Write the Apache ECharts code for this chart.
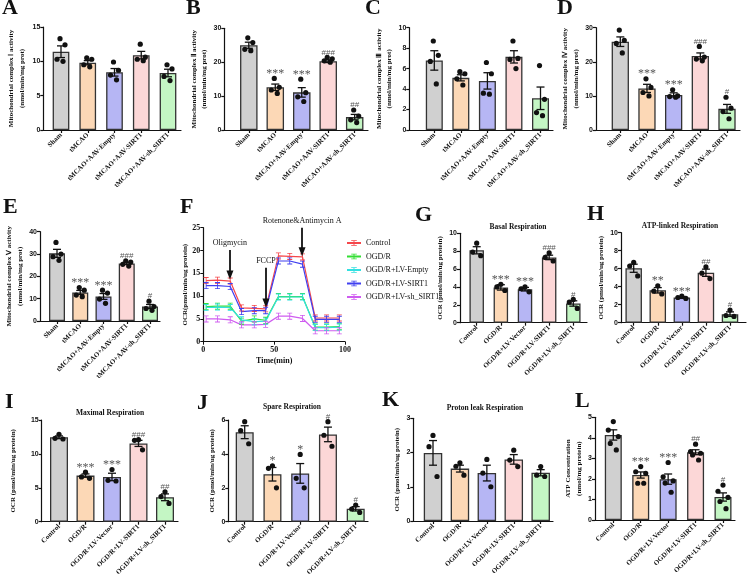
<!DOCTYPE html>
<html><head><meta charset="utf-8">
<script src="https://cdn.jsdelivr.net/npm/echarts@6/dist/echarts.min.js"></script>
<style>html,body{margin:0;padding:0;background:#fff}#c{width:747px;height:588px}</style>
</head><body><div id="c"></div>
<script>
// ---------- DATA ----------
const catsMCAO = ['Sham','tMCAO','tMCAO+AAV-Empty','tMCAO+AAV-SIRT1','tMCAO+AAV-sh_SIRT1'];
const catsOGD  = ['Control','OGD/R','OGD/R+LV-Vector','OGD/R+LV-SIRT1','OGD/R+LV-sh_SIRT1'];

const meanA=[11.4,9.8,8.4,10.9,8.3];   const semA=[0.85,0.3,0.55,0.55,0.55];
const ptsA=[[13.3,12.4,10.3,10.0],[10.5,10.3,9.5,9.2],[9.9,8.7,8.0,7.3],[12.5,10.6,10.3,10.1],[9.5,8.9,7.8,7.2]];
const meanB=[25.0,12.6,11.1,20.3,3.8]; const semB=[0.9,0.95,1.4,0.4,0.8];
const ptsB=[[27.2,25.8,23.8,23.4],[15.2,12.6,11.8,10.8],[15.0,11.0,9.8,8.4],[21.4,21.0,20.4,20.0],[5.9,4.1,3.0,2.2]];
const sigB=['','***','***','###','##'];
const meanC=[6.8,5.1,4.8,7.15,3.1];    const semC=[0.95,0.3,0.8,0.6,1.1];
const ptsC=[[8.7,7.3,6.7,4.5],[5.7,5.5,5.0,4.4],[6.6,5.5,3.6,3.5],[8.7,7.0,6.9,6.0],[6.3,3.0,1.7,1.4]];
const meanD=[25.9,12.2,10.3,21.7,6.2]; const semD=[1.4,1.2,0.6,0.9,1.3];
const ptsD=[[29.3,26.3,25.4,22.6],[15.0,12.5,11.0,10.0],[11.8,10.0,9.8,9.6],[24.5,21.4,20.8,20.3],[9.6,6.4,5.4,3.3]];
const sigD=['','***','***','###','#'];
const meanE=[30.3,12.8,11.0,25.8,6.5]; const semE=[1.8,0.9,1.3,0.5,0.9];
const ptsE=[[35.2,30.0,28.8,27.2],[15.0,13.8,11.6,10.9],[13.8,12.5,9.8,7.9],[26.9,26.4,25.4,24.6],[8.9,6.5,5.6,4.8]];
const sigE=['','***','***','###','#'];
const meanG=[8.1,3.95,3.75,7.3,2.15];  const semG=[0.4,0.3,0.2,0.25,0.3];
const ptsG=[[8.9,7.9,7.5],[4.3,4.0,3.6],[4.0,3.8,3.45],[7.8,7.3,6.9],[2.6,2.3,1.6]];
const sigG=['','***','***','###','#'];
const meanH=[6.05,3.6,2.8,5.55,0.95]; const semH=[0.45,0.3,0.1,0.4,0.25];
const ptsH=[[6.7,6.3,5.2],[4.1,3.5,3.2],[2.95,2.8,2.7],[6.2,5.5,4.9],[1.4,0.8,0.7]];
const sigH=['','**','***','##','#'];
const meanI=[12.45,6.8,6.6,11.55,3.6]; const semI=[0.2,0.25,0.55,0.45,0.5];
const ptsI=[[12.9,12.3,12.2],[7.3,6.6,6.4],[7.7,6.1,6.0],[12.1,12.0,10.6],[4.4,3.7,2.7]];
const sigI=['','***','***','###','##'];
const meanJ=[5.28,2.8,2.85,5.15,0.76]; const semJ=[0.38,0.4,0.58,0.43,0.13];
const ptsJ=[[5.9,5.37,4.6],[3.3,3.15,2.0],[3.97,2.56,2.0],[5.9,5.1,4.45],[0.98,0.75,0.55]];
const sigJ=['','*','*','#','#'];
const meanK=[1.99,1.53,1.4,1.8,1.41];  const semK=[0.36,0.1,0.23,0.14,0.09];
const ptsK=[[2.5,2.17,1.3],[1.7,1.6,1.34],[1.8,1.4,1.0],[2.07,1.78,1.59],[1.59,1.34,1.3]];
const meanL=[4.14,2.19,1.99,3.3,1.12]; const semL=[0.25,0.15,0.25,0.12,0.2];
const ptsL=[[4.79,4.38,4.06,3.73,3.41],[2.6,2.35,2.27,1.79,1.79],[2.8,2.1,1.9,1.8,1.35],[3.69,3.33,3.25,3.17,2.92],[1.7,1.4,1.1,0.9,0.55]];
const sigL=['','***','***','##','#'];

// Panel F (seahorse OCR trace)
const timeF=[2,10,19,27,36,44,53,61,70,79,87,96];
const ocrControl=[13.4,13.5,13.3,7.4,7.3,7.2,18.8,18.7,18.6,5.2,5.2,5.2];
const ocrOGDR   =[7.7,7.8,7.8,4.5,5.0,4.7,9.9,9.9,9.9,3.2,3.2,3.3];
const ocrEmpty  =[7.5,7.6,7.5,4.8,4.4,4.5,9.8,9.8,9.8,3.1,3.1,3.2];
const ocrSIRT1  =[12.3,12.3,12.1,6.6,6.8,6.8,17.7,17.7,17.0,4.9,4.9,4.9];
const ocrShSIRT1=[5.0,5.0,4.8,3.7,3.7,3.8,5.6,5.6,5.1,2.4,2.4,2.4];
const namesF=['Control','OGD/R','OGD/R+LV-Empty','OGD/R+LV-SIRT1','OGD/R+LV-sh_SIRT1'];
const injections=[{name:'Oligmycin',t:18.8,from:20.1,to:14.6},{name:'FCCP',t:44.2,from:16.2,to:8.5},{name:'Rotenone&Antimycin A',t:69.7,from:25,to:19.7}];

// ---------- PANEL DEFINITIONS ----------
const PANELS=[
 {key:'A',cats:catsMCAO,mean:meanA,sem:semA,pts:ptsA,sig:null,max:15,int:5,yname:'Mitochondrial complex Ⅰ activity\n(nmol/min/mg prot)'},
 {key:'B',cats:catsMCAO,mean:meanB,sem:semB,pts:ptsB,sig:sigB,max:30,int:10,yname:'Mitochondrial complex Ⅱ activity\n(nmol/min/mg prot)'},
 {key:'C',cats:catsMCAO,mean:meanC,sem:semC,pts:ptsC,sig:null,max:10,int:2,yname:'Mitochondrial complex Ⅲ activity\n(nmol/min/mg prot)'},
 {key:'D',cats:catsMCAO,mean:meanD,sem:semD,pts:ptsD,sig:sigD,max:30,int:10,yname:'Mitochondrial complex Ⅳ activity\n(nmol/min/mg prot)'},
 {key:'E',cats:catsMCAO,mean:meanE,sem:semE,pts:ptsE,sig:sigE,max:40,int:10,yname:'Mitochondrial complex Ⅴ activity\n(nmol/min/mg prot)'},
 {key:'G',cats:catsOGD,mean:meanG,sem:semG,pts:ptsG,sig:sigG,max:10,int:2,yname:'OCR (pmol/min/ug protein)'},
 {key:'H',cats:catsOGD,mean:meanH,sem:semH,pts:ptsH,sig:sigH,max:10,int:2,yname:'OCR (pmol/min/ug protein)'},
 {key:'I',cats:catsOGD,mean:meanI,sem:semI,pts:ptsI,sig:sigI,max:15,int:5,yname:'OCR (pmol/min/ug protein)'},
 {key:'J',cats:catsOGD,mean:meanJ,sem:semJ,pts:ptsJ,sig:sigJ,max:6,int:2,yname:'OCR (pmol/min/ug protein)'},
 {key:'K',cats:catsOGD,mean:meanK,sem:semK,pts:ptsK,sig:null,max:3,int:1,yname:'OCR (pmol/min/ug protein)'},
 {key:'L',cats:catsOGD,mean:meanL,sem:semL,pts:ptsL,sig:sigL,max:5,int:1,yname:'ATP Concentration\n(nmol/mg protein)'}
];
const TITLES=[['Basal Respiration',518,227],['ATP-linked Respiration',680,226],['Maximal Respiration',110,413],['Spare Respiration',292,407],['Proton leak Respiration',485,408]];
const LETTERS=[['A',2,8],['B',186,8],['C',365,8],['D',557,8],['E',3,207],['F',180,207],['G',415,215],['H',587,214],['I',5,402],['J',197,403],['K',382,400],['L',575,401]];

// ---------- LAYOUT / STYLE ----------
const LAYOUT={
 A:{ax:43.3,top:27,zero:130,c0:61,c4:168,end:181,bw:16.7,ng:16},
 B:{ax:224.3,top:28.3,zero:130,c0:248.8,c4:354.7,end:368,bw:17.5,ng:14},
 C:{ax:409.3,top:27.7,zero:130,c0:434.3,c4:540.5,end:553,bw:17,ng:11},
 D:{ax:596,top:27.7,zero:130,c0:620.3,c4:727,end:740,bw:17.3,ng:11},
 E:{ax:40,top:231.7,zero:321,c0:57,c4:150,end:160,bw:16,ng:12},
 G:{ax:460,top:233.3,zero:322.7,c0:476.7,c4:573.3,end:587,bw:14.5,ng:14},
 H:{ax:621,top:232.7,zero:322.7,c0:633.7,c4:730,end:746,bw:16.5,ng:12},
 I:{ax:41.7,top:420,zero:521.7,c0:59,c4:165,end:178,bw:18,ng:23},
 J:{ax:228.3,top:420,zero:521.7,c0:244.7,c4:355.7,end:368,bw:18,ng:7},
 K:{ax:413.3,top:418.3,zero:521,c0:433,c4:540.7,end:553,bw:18.5,ng:8},
 L:{ax:595,top:417.3,zero:520,c0:613.3,c4:723,end:735,bw:17,ng:10}
};
const BAR_COLORS=['#d0d0d0','#fcd8b6','#b6b6f4','#fcd7d7','#c4f6c4'];
const F_COLORS=['#f5474b','#33de33','#33e0e0','#4040f0','#cf5cf0'];
const JIT={3:[0,-4,4],4:[-1,4,-4,2],5:[0,-5,5,-3,3]};
const SERIF='"Liberation Serif","Times New Roman",serif';
const SANS='"Liberation Sans",Arial,sans-serif';
const INK='#111';

const chart=echarts.init(document.getElementById('c'),null,{renderer:'canvas',width:747,height:588});
const grids=[],xAxes=[],yAxes=[],series=[];

PANELS.forEach((p,k)=>{
  const L=LAYOUT[p.key];
  const s=(L.c4-L.c0)/4;
  grids.push({left:L.ax,top:L.top,width:L.end-L.ax,height:L.zero-L.top});
  xAxes.push({gridIndex:k,type:'value',min:-(L.c0-L.ax)/s,max:4+(L.end-L.c4)/s,splitLine:{show:false},
    axisLine:{show:true,onZero:false,lineStyle:{color:INK,width:1.2}},
    axisTick:{show:true,customValues:[0,1,2,3,4],length:3,lineStyle:{color:INK,width:1.2}},
    axisLabel:{customValues:[0,1,2,3,4],formatter:v=>p.cats[Math.round(v)],rotate:45,margin:4,
      fontFamily:SERIF,fontWeight:'bold',fontSize:7,color:INK}});
  yAxes.push({gridIndex:k,type:'value',min:0,max:p.max,interval:p.int,splitLine:{show:false},
    axisLine:{show:true,onZero:false,lineStyle:{color:INK,width:1.2}},
    axisTick:{show:true,length:3,lineStyle:{color:INK,width:1.2}},
    axisLabel:{fontFamily:SANS,fontWeight:'bold',fontSize:7,color:INK,margin:3},
    name:p.yname,nameLocation:'middle',nameGap:L.ng,
    nameTextStyle:{fontFamily:SERIF,fontWeight:'bold',fontSize:7,color:INK,lineHeight:10.5}});
  series.push({type:'bar',xAxisIndex:k,yAxisIndex:k,barWidth:L.bw,z:2,silent:true,
    data:p.mean.map((v,i)=>({value:[i,v],itemStyle:{color:BAR_COLORS[i]}})),
    itemStyle:{borderColor:'#333',borderWidth:1.3}});
  // error bars
  series.push({type:'custom',xAxisIndex:k,yAxisIndex:k,z:4,silent:true,
    data:p.mean.map((v,i)=>[i,v,p.sem[i]]),
    renderItem:(params,api)=>{
      const i=api.value(0),m=api.value(1),e=api.value(2);
      const hi=api.coord([i,m+e]),lo=api.coord([i,m-e]);const c=4;
      const st={stroke:INK,lineWidth:1.3};
      return {type:'group',children:[
        {type:'line',shape:{x1:hi[0],y1:hi[1],x2:lo[0],y2:lo[1]},style:st},
        {type:'line',shape:{x1:hi[0]-c,y1:hi[1],x2:hi[0]+c,y2:hi[1]},style:st},
        {type:'line',shape:{x1:lo[0]-c,y1:lo[1],x2:lo[0]+c,y2:lo[1]},style:st}]};
    }});
  // individual points
  const pd=[];p.pts.forEach((arr,i)=>arr.forEach((v,j)=>pd.push([i,v,j,arr.length])));
  series.push({type:'custom',xAxisIndex:k,yAxisIndex:k,z:5,silent:true,data:pd,
    renderItem:(params,api)=>{
      const c=api.coord([api.value(0),api.value(1)]);
      const off=(JIT[api.value(3)]||[0])[api.value(2)]||0;
      return {type:'circle',shape:{cx:c[0]+off,cy:c[1],r:2.6},style:{fill:INK}};
    }});
  // significance marks
  if(p.sig){
    const sd=p.mean.map((v,i)=>[i,v+p.sem[i],Math.max.apply(null,p.pts[i]),i]);
    series.push({type:'custom',xAxisIndex:k,yAxisIndex:k,z:6,silent:true,data:sd,
      renderItem:(params,api)=>{
        const i=api.value(0);const t=p.sig[api.value(3)];
        if(!t) return null;
        const a=api.coord([i,api.value(1)]),b=api.coord([i,api.value(2)]);
        const top=Math.min(a[1],b[1]-2.6);
        const star=t[0]==='*';
        return {type:'text',style:{text:t,x:a[0],y:top+(star?4:1.5),align:'center',textAlign:'center',
          verticalAlign:'bottom',textVerticalAlign:'bottom',
          font:star?('12px '+SERIF):('8px '+SANS),fill:'#555'}};
      }});
  }
});

// ---------- Panel F ----------
const fk=PANELS.length;
grids.push({left:203.3,top:227.7,width:141.7,height:114});
xAxes.push({gridIndex:fk,type:'value',min:0,max:100,interval:50,splitLine:{show:false},
  axisLine:{show:true,onZero:false,lineStyle:{color:INK,width:1.2}},axisTick:{show:true,length:3,lineStyle:{color:INK}},
  axisLabel:{fontFamily:SERIF,fontWeight:'bold',fontSize:8,color:INK,margin:4},
  name:'Time(min)',nameLocation:'middle',nameGap:15,nameTextStyle:{fontFamily:SERIF,fontWeight:'bold',fontSize:8,color:INK}});
yAxes.push({gridIndex:fk,type:'value',min:0,max:25,interval:5,splitLine:{show:false},
  axisLine:{show:true,onZero:false,lineStyle:{color:INK,width:1.2}},axisTick:{show:true,length:3,lineStyle:{color:INK}},
  axisLabel:{fontFamily:SERIF,fontWeight:'bold',fontSize:8,color:INK,margin:3},
  name:'OCR(pmol/min/ug protein)',nameLocation:'middle',nameGap:13,
  nameTextStyle:{fontFamily:SERIF,fontWeight:'bold',fontSize:7,color:INK}});
const fSeries=[ocrControl,ocrOGDR,ocrEmpty,ocrSIRT1,ocrShSIRT1];
const IBEAM='path://M0,0h6v1h-6z M2.5,0h1v8h-1z M0,7h6v1h-6z';
fSeries.forEach((arr,si)=>{
  const sObj={type:'line',name:namesF[si],xAxisIndex:fk,yAxisIndex:fk,data:arr.map((v,i)=>[timeF[i],v]),
    symbol:IBEAM,symbolSize:[5,7],showSymbol:true,lineStyle:{width:1.2,color:F_COLORS[si]},
    itemStyle:{color:F_COLORS[si]},z:3,silent:true,animation:false};
  if(si===0){
    sObj.markLine={silent:true,symbol:['none','triangle'],symbolSize:[7,9],animation:false,
      lineStyle:{color:INK,width:1.8,type:'solid'},
      label:{show:true,position:'start',distance:3,formatter:'{b}',fontFamily:SERIF,fontSize:8,color:INK},
      data:injections.map(d=>[{name:d.name,coord:[d.t,d.from]},{coord:[d.t,d.to]}])};
  }
  series.push(sObj);
});

const graphic=[];
LETTERS.forEach(([t,x,y])=>graphic.push({type:'text',x:x,y:y,style:{text:t,font:'bold 22px '+SERIF,fill:INK,
  align:'left',textAlign:'left',verticalAlign:'middle',textVerticalAlign:'middle'}}));
TITLES.forEach(([t,x,y])=>graphic.push({type:'text',x:x,y:y,style:{text:t,font:'bold 7.5px '+SERIF,fill:INK,
  align:'center',textAlign:'center',verticalAlign:'middle',textVerticalAlign:'middle'}}));

chart.setOption({
  animation:false,backgroundColor:'#fff',
  grid:grids,xAxis:xAxes,yAxis:yAxes,series:series,graphic:graphic,
  legend:{orient:'vertical',left:341,top:234,itemWidth:14,itemHeight:7,itemGap:5.5,
    data:namesF,textStyle:{fontFamily:SERIF,fontSize:8,color:INK,lineHeight:8},selectedMode:false}
});
</script></body></html>
